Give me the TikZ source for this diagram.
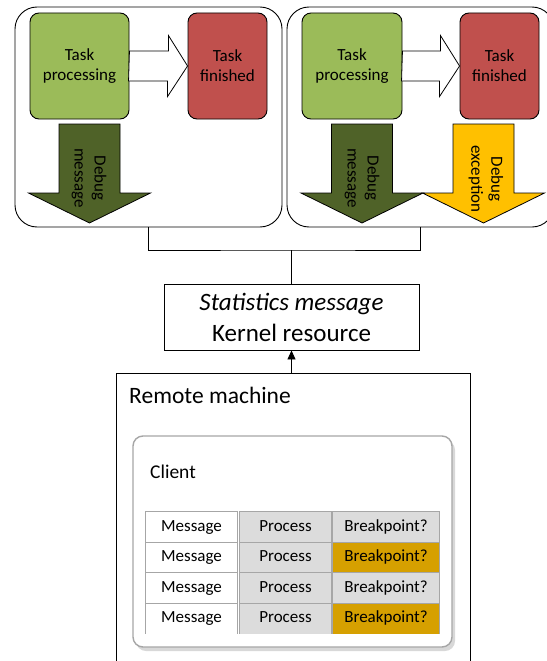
\documentclass[tikz,border=0pt]{standalone}
\usepackage{fontspec}
\setmainfont{Carlito}
\usetikzlibrary{arrows.meta,shadows}

\definecolor{taskgreen}{HTML}{9BBB59}
\definecolor{taskred}{HTML}{C0504D}
\definecolor{debuggreen}{HTML}{4F6228}
\definecolor{debugyellow}{HTML}{FFC000}
\definecolor{breakgold}{HTML}{D6A000}
\definecolor{cellgray}{HTML}{DCDCDC}
\definecolor{gridgray}{HTML}{A6A6A6}

% down arrow: centre x, fill colour
\newcommand{\debugarrow}[2]{%
  \filldraw[fill=#2,line width=0.8pt] ({#1-30.5},124) -- ({#1+30.5},124) -- ({#1+30.5},193)
     -- ({#1+61},193) -- (#1,223) -- ({#1-61},193) -- ({#1-30.5},193) -- cycle;}

\begin{document}
\begin{tikzpicture}[x=1pt,y=-1pt,
  taskbox/.style={draw,line width=0.9pt,rounded corners=9pt,minimum height=106pt,align=center,
                  inner sep=0pt,font=\fontsize{17}{20}\selectfont},
  outerbox/.style={draw,line width=0.9pt,rounded corners=22pt,minimum width=267pt,minimum height=220pt},
  hollow/.style={draw,fill=white,line width=0.8pt},
  rottext/.style={rotate=-90,align=center,font=\fontsize{17}{20}\selectfont},
  cell/.style={minimum width=91pt,minimum height=30.5pt,inner sep=0pt,text height=12pt,text depth=3.5pt,
               font=\fontsize{17}{20}\selectfont},
  gridline/.style={draw=gridgray,line width=0.8pt}]

  \useasboundingbox (0,0) rectangle (546,661);

  % upper panels
  \node[outerbox] (left) at (148.5,117) {};
  \node[outerbox] (right) at (420.5,117) {};

  \node[taskbox,fill=taskgreen,minimum width=99pt] (tp1) at (79.5,66) {Task\\processing};
  \node[taskbox,fill=taskred,minimum width=79pt] (tf1) at (227.5,66) {Task\\finished};
  \node[taskbox,fill=taskgreen,minimum width=100pt] (tp2) at (352,66) {Task\\processing};
  \node[taskbox,fill=taskred,minimum width=79pt] (tf2) at (499.5,66) {Task\\finished};

  \draw[hollow] (tp1.east) ++(0,-15) -- ++(39,0) -- ++(0,-15.5) -- (tf1.west) -- ++(-20,30.5)
     -- ++(0,-15.5) -- ++(-39,0) -- cycle;
  \draw[hollow] (tp2.east) ++(0,-15) -- ++(38,0) -- ++(0,-15.5) -- (tf2.west) -- ++(-20,30.5)
     -- ++(0,-15.5) -- ++(-38,0) -- cycle;

  \debugarrow{89.5}{debuggreen}
  \debugarrow{362}{debuggreen}
  \debugarrow{483.5}{debugyellow}
  \node[rottext] (dm1) at (89,178) {Debug\\message};
  \node[rottext] (dm2) at (362,178) {Debug\\message};
  \node[rottext] (de2) at (486,179) {Debug\\exception};

  % statistics
  \node[draw,line width=0.9pt,minimum width=255pt,minimum height=66pt,align=center,inner sep=0pt,
        font=\fontsize{25}{31}\selectfont] (stat) at (291.5,317) {\textit{Statistics message}\\Kernel resource};
  \coordinate (join) at (291.5,250);
  \draw[line width=0.9pt] (left.south) |- (join) -| (right.south);
  \draw[line width=0.9pt] (join) -- (stat.north);

  % remote machine
  \coordinate (remtop) at (291.5,373);
  \draw[line width=0.9pt] (116,661) -- (116,373) -- (470,373) -- (470,661);
  \draw[line width=0.9pt,-{Triangle[length=9pt,width=8pt]}] (remtop) -- (stat.south);
  \node[anchor=base west,inner sep=0pt,font=\fontsize{23.5}{27}\selectfont] (remote) at (129,403) {Remote machine};

  \node[draw=gray!70,line width=1.4pt,fill=white,rounded corners=10pt,minimum width=319pt,minimum height=211pt,
        drop shadow={shadow xshift=3pt,shadow yshift=-4pt,fill=gray!60}] (client) at (292.5,541.5) {};
  \node[anchor=base west,inner sep=0pt,font=\fontsize{19.5}{23}\selectfont] (clientlbl) at (150,478) {Client};

  \foreach \r/\y/\bc in {1/527/cellgray,2/557.5/breakgold,3/588/cellgray,4/618.5/breakgold}{
    \node[cell,fill=white] (m\r) at (191.5,\y) {Message};
    \node[cell,fill=cellgray] (p\r) at (285.5,\y) {Process};
    \node[cell,fill=\bc,minimum width=106pt] (b\r) at (386,\y) {Breakpoint?};
  }
  \foreach \n in {m,p,b}
    \foreach \r in {1,...,4}
      \draw[gridline] (\n\r.south west) |- (\n\r.north east) -- (\n\r.south east);

\end{tikzpicture}
\end{document}
